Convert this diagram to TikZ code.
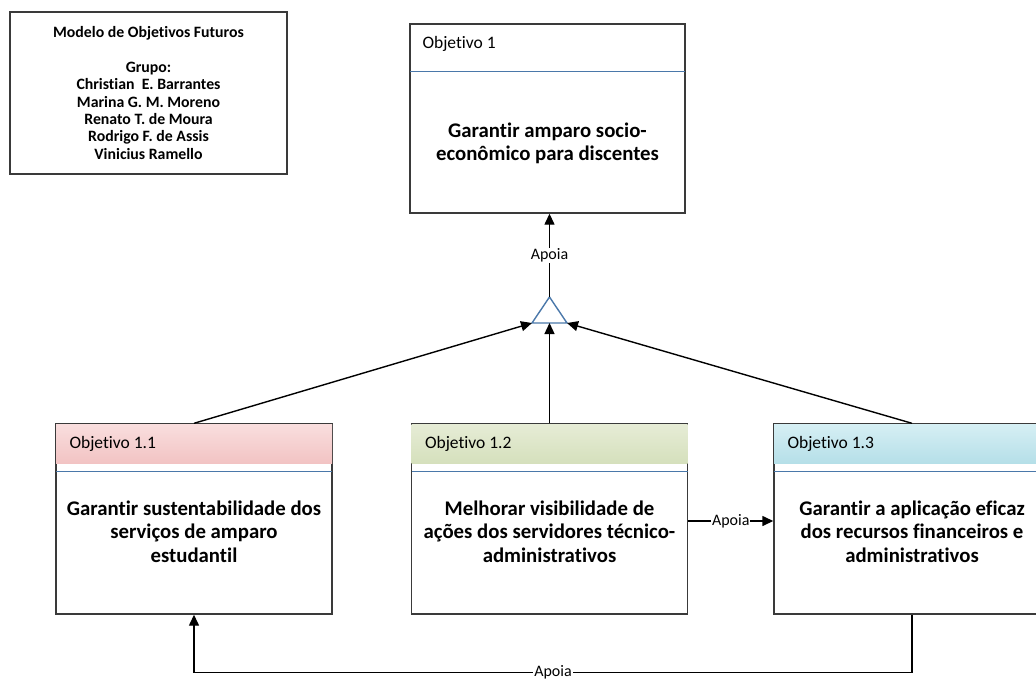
\documentclass[tikz,border=0pt]{standalone}
\usepackage{fontspec}
\setmainfont{Carlito}[Ligatures={NoCommon}]
\usetikzlibrary{arrows.meta,calc}

\definecolor{edge}{HTML}{3A3A3A}
\definecolor{sepline}{HTML}{4A78AA}
\definecolor{redtop}{HTML}{F9DEDE}
\definecolor{redbot}{HTML}{F2C3C3}
\definecolor{greentop}{HTML}{E6ECD6}
\definecolor{greenbot}{HTML}{D5E0BC}
\definecolor{cyantop}{HTML}{D6EFF4}
\definecolor{cyanbot}{HTML}{B5DFE8}

\tikzset{
  objbox/.style={draw=edge, line width=1.4pt, fill=white, rectangle,
    minimum width=276pt, minimum height=190pt, inner sep=0pt},
  hdrtext/.style={anchor=west, inner sep=0pt, font=\fontsize{17.5}{20}\selectfont},
  bodytext/.style={align=center, inner sep=0pt,
    font=\bfseries\fontsize{20.8}{23.5}\selectfont},
  sepl/.style={draw=sepline, line width=1pt},
  conn/.style={draw=black, line width=1.4pt,
    -{Triangle[length=11pt,width=10pt]}},
  lbl/.style={fill=white, inner sep=1pt, font=\fontsize{16}{18}\selectfont},
  infobox/.style={draw=edge, line width=1.4pt, rectangle, align=center,
    minimum width=277pt, minimum height=162pt, inner sep=0pt,
    font=\bfseries\fontsize{15.8}{17.3}\selectfont}
}

% header band of an objective box: shading, separator line, title
\newcommand{\objheader}[4]{%
  \shade[top color=#2, bottom color=#3]
    ($(#1.north west)+(0.7,0.7)$) rectangle ($(#1.north east)+(-0.7,40)$);
  \draw[sepl] ($(#1.north west)+(0.7,48)$) -- ($(#1.north east)+(-0.7,48)$);
  \node[hdrtext] (#1h) at ($(#1.north west)+(14,21)$) {#4};
}

\begin{document}
\begin{tikzpicture}[x=1pt,y=-1pt]
  \useasboundingbox (0,0) rectangle (1036,680);
  \clip (0,0) rectangle (1036,680);
  \fill[white] (0,0) rectangle (1036,680);

  % title block
  \node[infobox] (info) at (148.5,93) {Modelo de Objetivos Futuros\\[17.3pt]
    Grupo:\\Christian\ \ E. Barrantes\\Marina G. M. Moreno\\Renato T. de Moura\\
    Rodrigo F. de Assis\\Vinicius Ramello};

  % top objective
  \node[objbox, minimum width=275pt, minimum height=189pt] (o1) at (547.5,118.5) {};
  \draw[sepl] ($(o1.north west)+(0.7,48)$) -- ($(o1.north east)+(-0.7,48)$);
  \node[hdrtext] (o1h) at ($(o1.north west)+(13,21)$) {Objetivo 1};
  \node[bodytext] (o1t) at ($(o1.north)+(0,120)$)
    {Garantir amparo socio-\\econômico para discentes};

  % sub-objectives
  \node[objbox] (o11) at (194,519) {};
  \objheader{o11}{redtop}{redbot}{Objetivo 1.1}
  \node[bodytext] (o11t) at ($(o11.north)+(0,108)$)
    {Garantir sustentabilidade dos\\serviços de amparo\\estudantil};

  \node[objbox] (o12) at (549.5,519) {};
  \objheader{o12}{greentop}{greenbot}{Objetivo 1.2}
  \node[bodytext] (o12t) at ($(o12.north)+(0,108)$)
    {Melhorar visibilidade de\\ações dos servidores técnico-\\administrativos};

  \node[objbox] (o13) at (912,519) {};
  \objheader{o13}{cyantop}{cyanbot}{Objetivo 1.3}
  \node[bodytext] (o13t) at ($(o13.north)+(0,108)$)
    {Garantir a aplicação eficaz\\dos recursos financeiros e\\administrativos};

  % AND junction
  \coordinate (tl) at (532,323);
  \coordinate (tr) at (567,323);
  \coordinate (tb) at (549.5,323);
  \coordinate (tt) at (549.5,297);
  \draw[draw=sepline, fill=white, line width=1.4pt, line join=miter]
    (tl) -- (tr) -- (tt) -- cycle;

  % connectors
  \draw[conn] (tt) -- node[lbl] (l1) {Apoia} (tt |- o1.south);
  \draw[conn] (o11.north) -- (tl);
  \draw[conn] (o12.north) -- (tb);
  \draw[conn] (o13.north) -- (tr);
  \draw[conn] (o12.east |- 0,521) -- node[lbl] (l2) {Apoia} (o13.west |- 0,521);
  \coordinate (bend) at ($(o13.south)+(0,58)$);
  \draw[conn] (o13.south) -- (bend) -| node[lbl, pos=0.25] (l3) {Apoia} (o11.south);
\end{tikzpicture}
\end{document}
